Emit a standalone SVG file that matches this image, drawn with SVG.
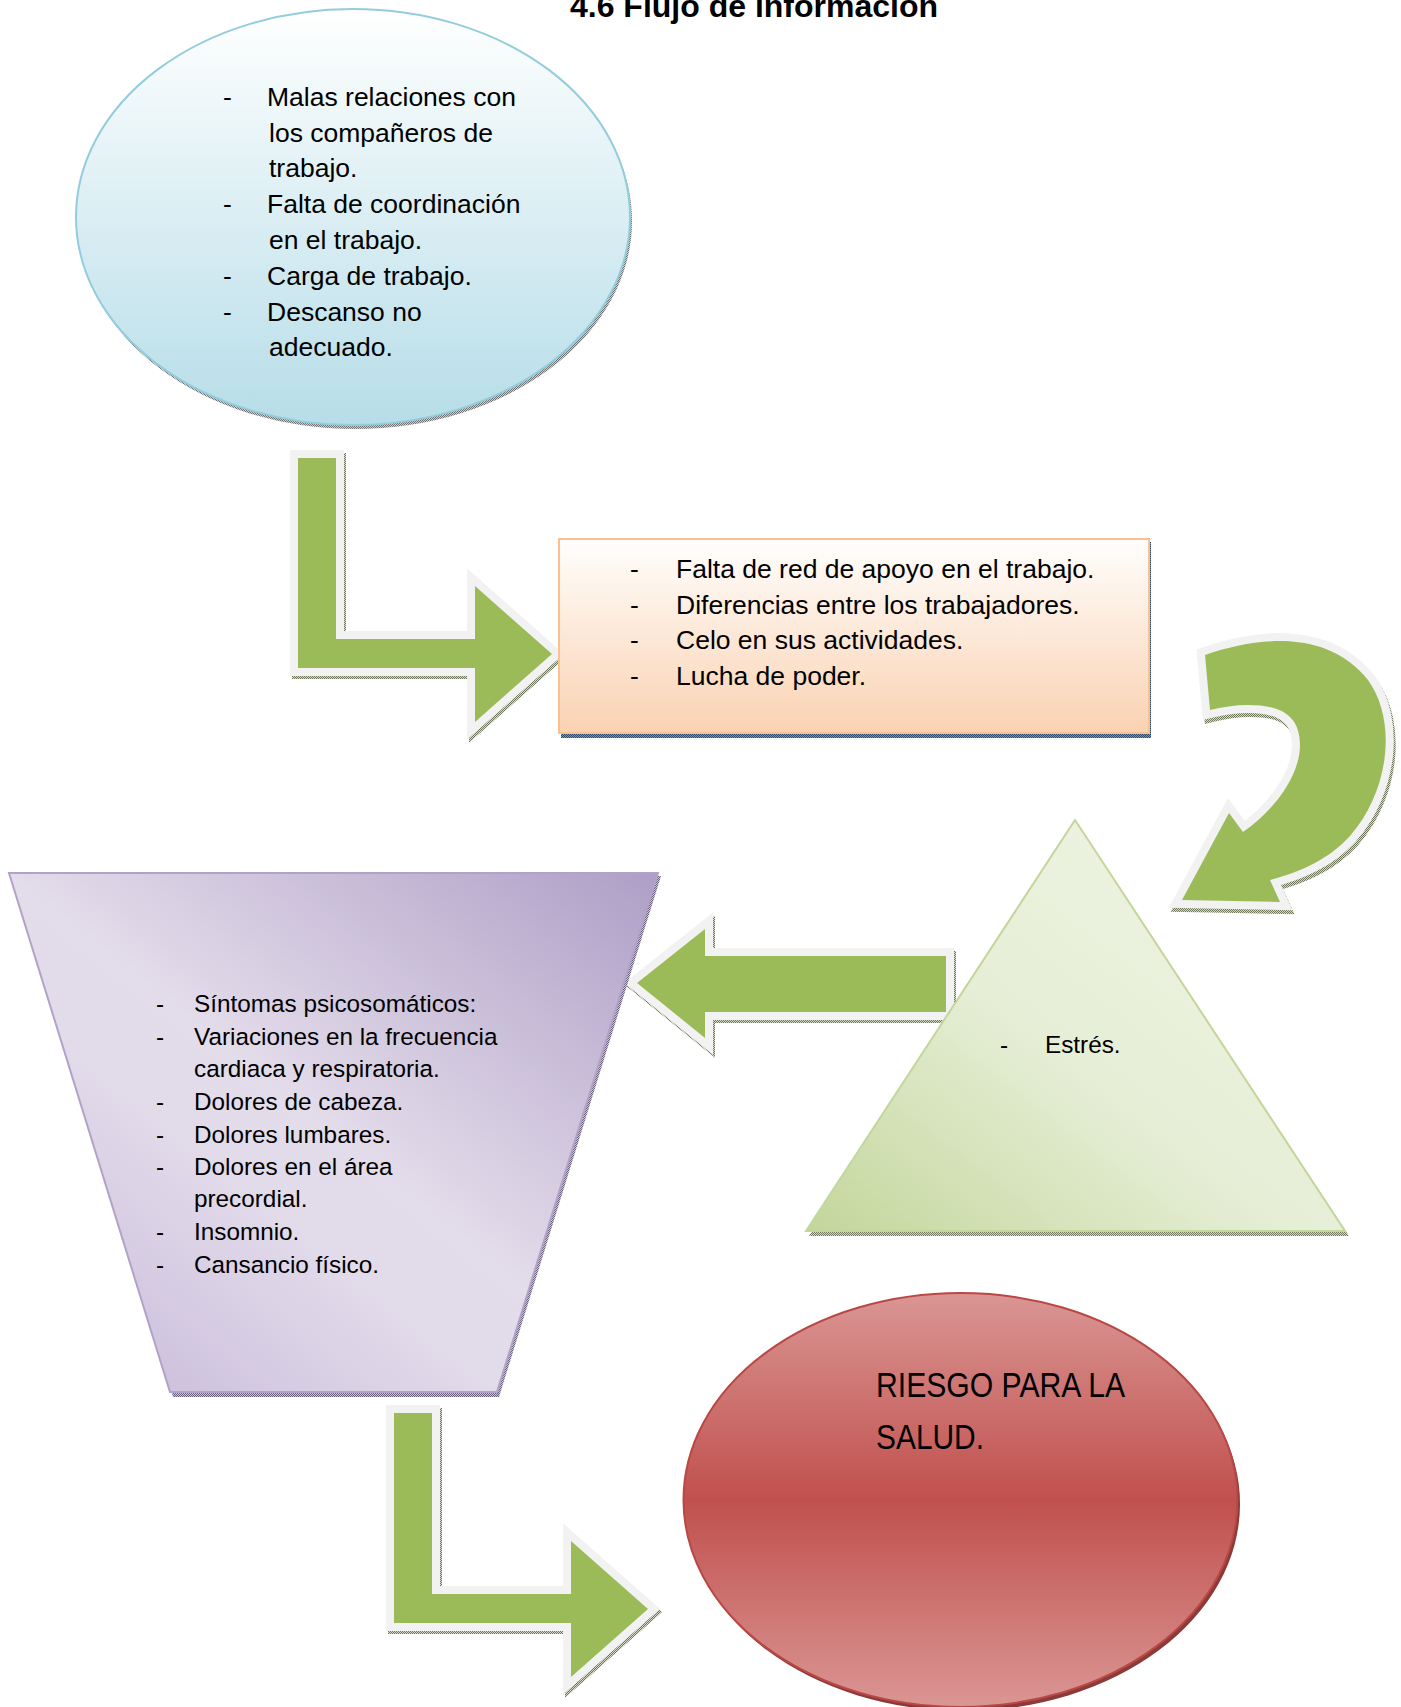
<svg xmlns="http://www.w3.org/2000/svg" width="1401" height="1707" viewBox="0 0 1401 1707">
<defs>
<style>
.t{font-family:"Liberation Sans",Arial,sans-serif;fill:#000}
.big{font-size:26.5px}
.mid{font-size:24.3px}
.arrow{fill:#9bbb59;stroke:#f2f2f2;stroke-width:16;paint-order:stroke;stroke-linejoin:miter}
.ash{fill:url(#hg);stroke:url(#hg);stroke-width:16;stroke-linejoin:miter}
</style>
<pattern id="hg" width="2" height="2" patternUnits="userSpaceOnUse"><rect width="2" height="2" fill="#d4d9c8"/><rect width="1" height="1" fill="#6e7759"/><rect x="1" y="1" width="1" height="1" fill="#6e7759"/></pattern>
<pattern id="hgr" width="2" height="2" patternUnits="userSpaceOnUse"><rect width="2" height="2" fill="#d0d0d0"/><rect width="1" height="1" fill="#707070"/><rect x="1" y="1" width="1" height="1" fill="#707070"/></pattern>
<pattern id="hbl" width="2" height="2" patternUnits="userSpaceOnUse"><rect width="2" height="2" fill="#7d93ad"/><rect width="1" height="1" fill="#2c4a6e"/><rect x="1" y="1" width="1" height="1" fill="#2c4a6e"/></pattern>
<pattern id="hpu" width="2" height="2" patternUnits="userSpaceOnUse"><rect width="2" height="2" fill="#c9c2d4"/><rect width="1" height="1" fill="#6d6480"/><rect x="1" y="1" width="1" height="1" fill="#6d6480"/></pattern>
<linearGradient id="gBlue" x1="0" y1="0" x2="0" y2="1"><stop offset="0" stop-color="#ffffff"/><stop offset="1" stop-color="#b6dde8"/></linearGradient>
<linearGradient id="gOr" x1="0" y1="0" x2="0" y2="1"><stop offset="0" stop-color="#fffefd"/><stop offset="1" stop-color="#fad2b2"/></linearGradient>
<linearGradient id="gPu" x1="1" y1="0" x2="0" y2="1"><stop offset="0" stop-color="#ae9ec6"/><stop offset="0.5" stop-color="#e3dcea"/><stop offset="0.62" stop-color="#e2dbea"/><stop offset="1" stop-color="#c4b6d8"/></linearGradient>
<linearGradient id="gGr" x1="1" y1="0" x2="0" y2="1"><stop offset="0" stop-color="#f0f5e6"/><stop offset="0.55" stop-color="#e6eed6"/><stop offset="1" stop-color="#c3d69b"/></linearGradient>
<linearGradient id="gRed" x1="0" y1="0" x2="0" y2="1"><stop offset="0" stop-color="#da9694"/><stop offset="0.5" stop-color="#c0504d"/><stop offset="1" stop-color="#da9694"/></linearGradient>
<path id="Larrow" d="M394,1413 L432,1413 L432,1594 L571,1594 L571,1541 L648,1609 L571,1677 L571,1623 L394,1623 Z"/>
</defs>
<rect width="1401" height="1707" fill="#ffffff"/>

<text class="t" x="754" y="17" font-size="32" font-weight="bold" text-anchor="middle">4.6 Flujo de información</text>

<g id="connectors">
  <g id="arrow1" transform="translate(-96,-955)">
    <use href="#Larrow" class="ash" transform="translate(2,3)"/>
    <use href="#Larrow" class="arrow"/>
  </g>
  <g id="arrow2">
    <path class="ash" transform="translate(2,4)" d="M1205,655 C1260,636 1328,630 1368,680 C1397,720 1390,790 1350,836 C1328,860 1300,872 1270,880 L1280,902 L1182,900 L1229,813 L1243,832 C1275,810 1300,775 1300,745 C1300,715 1280,705 1248,705 C1235,705 1222,707 1210,710 Z"/>
    <path class="arrow" d="M1205,655 C1260,636 1328,630 1368,680 C1397,720 1390,790 1350,836 C1328,860 1300,872 1270,880 L1280,902 L1182,900 L1229,813 L1243,832 C1275,810 1300,775 1300,745 C1300,715 1280,705 1248,705 C1235,705 1222,707 1210,710 Z"/>
  </g>
  <g id="arrow3">
    <path class="ash" transform="translate(2,3)" d="M637,983 L705,929 L705,956 L946,956 L946,1012 L705,1012 L705,1038 Z"/>
    <path class="arrow" d="M637,983 L705,929 L705,956 L946,956 L946,1012 L705,1012 L705,1038 Z"/>
  </g>
  <g id="arrow4">
    <use href="#Larrow" class="ash" transform="translate(2,3)"/>
    <use href="#Larrow" class="arrow"/>
  </g>
</g>

<g id="node1">
  <ellipse cx="355" cy="221" rx="277" ry="208" fill="url(#hgr)"/>
  <ellipse cx="353" cy="217" rx="277" ry="208" fill="url(#gBlue)" stroke="#93cddd" stroke-width="2"/>
  <g class="t big">
    <text x="223" y="106">-</text><text x="267" y="106">Malas relaciones con</text>
    <text x="269" y="142">los compañeros de</text>
    <text x="269" y="177">trabajo.</text>
    <text x="223" y="213">-</text><text x="267" y="213">Falta de coordinación</text>
    <text x="269" y="249">en el trabajo.</text>
    <text x="223" y="285">-</text><text x="267" y="285">Carga de trabajo.</text>
    <text x="223" y="321">-</text><text x="267" y="321">Descanso no</text>
    <text x="269" y="356">adecuado.</text>
  </g>
</g>

<g id="node2">
  <rect x="561" y="542" width="590" height="196" fill="url(#hbl)"/>
  <rect x="559" y="539" width="590" height="194" fill="url(#gOr)" stroke="#fac08f" stroke-width="2"/>
  <g class="t big">
    <text x="630" y="578">-</text><text x="676" y="578">Falta de red de apoyo en el trabajo.</text>
    <text x="630" y="614">-</text><text x="676" y="614">Diferencias entre los trabajadores.</text>
    <text x="630" y="649">-</text><text x="676" y="649">Celo en sus actividades.</text>
    <text x="630" y="685">-</text><text x="676" y="685">Lucha de poder.</text>
  </g>
</g>

<g id="node3">
  <path d="M1078,824 L1349,1236 L809,1236 Z" fill="url(#hg)"/>
  <path d="M1075,820 L1345,1231 L806,1231 Z" fill="url(#gGr)" stroke="#c3d69b" stroke-width="2"/>
  <g class="t mid">
    <text x="1000" y="1053">-</text><text x="1045" y="1053">Estrés.</text>
  </g>
</g>

<g id="node4">
  <path d="M12,876 L661,876 L499,1397 L173,1397 Z" fill="url(#hpu)"/>
  <path d="M9,873 L658,873 L497,1392 L170,1392 Z" fill="url(#gPu)" stroke="#b3a2c7" stroke-width="2"/>
  <g class="t mid">
    <text x="156" y="1012">-</text><text x="194" y="1012">Síntomas psicosomáticos:</text>
    <text x="156" y="1045">-</text><text x="194" y="1045">Variaciones en la frecuencia</text>
    <text x="194" y="1077">cardiaca y respiratoria.</text>
    <text x="156" y="1110">-</text><text x="194" y="1110">Dolores de cabeza.</text>
    <text x="156" y="1143">-</text><text x="194" y="1143">Dolores lumbares.</text>
    <text x="156" y="1175">-</text><text x="194" y="1175">Dolores en el área</text>
    <text x="194" y="1207">precordial.</text>
    <text x="156" y="1240">-</text><text x="194" y="1240">Insomnio.</text>
    <text x="156" y="1273">-</text><text x="194" y="1273">Cansancio físico.</text>
  </g>
</g>

<g id="node5">
  <ellipse cx="963" cy="1504" rx="277" ry="207" fill="#8a3a38"/>
  <ellipse cx="960.5" cy="1500" rx="277" ry="207" fill="url(#gRed)" stroke="#b94845" stroke-width="2"/>
  <g class="t" font-size="35">
    <text x="876" y="1397" textLength="249" lengthAdjust="spacingAndGlyphs">RIESGO PARA LA</text>
    <text x="876" y="1449" textLength="108" lengthAdjust="spacingAndGlyphs">SALUD.</text>
  </g>
</g>
</svg>
